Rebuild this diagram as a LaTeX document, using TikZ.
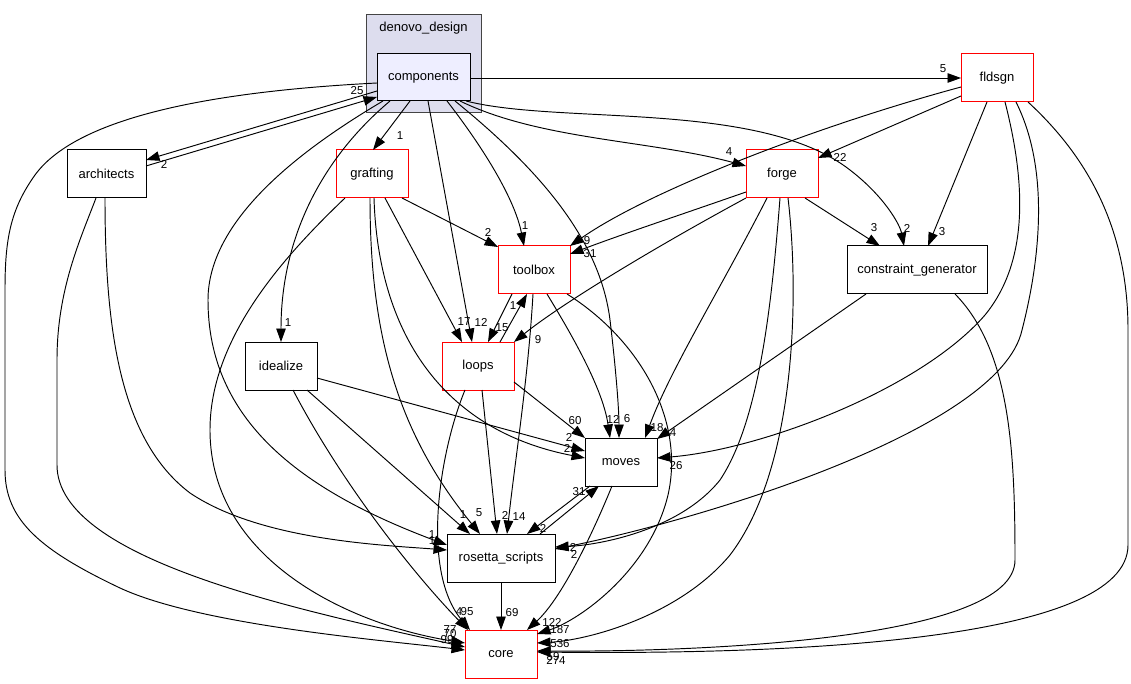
\documentclass[tikz,border=0pt]{standalone}
\usepackage{fontspec}
\setmainfont{Liberation Sans}
\usetikzlibrary{arrows.meta,calc}
\definecolor{clfill}{RGB}{221,221,238}
\definecolor{compfill}{RGB}{238,238,255}
\definecolor{clborder}{RGB}{68,68,68}
\definecolor{redb}{RGB}{255,0,0}
\begin{document}
\begin{tikzpicture}[x=1pt,y=-1pt,
  box/.style={draw=black, line width=1pt, minimum height=48pt, inner sep=0pt, fill=white, font=\fontsize{13}{15}\selectfont},
  rbox/.style={box, draw=redb},
  dep/.style={draw=black, line width=0.95pt, -{Triangle[length=13.5pt,width=9.5pt]}},
  lab/.style={inner sep=0pt, font=\fontsize{11.5}{13}\selectfont}]
\useasboundingbox (0,0) rectangle (1131,684);
\fill[white] (0,0) rectangle (1131,684);
% cluster
\draw[fill=clfill, draw=clborder, line width=1pt] (366,15) rectangle (481,113);
\node[inner sep=0pt, font=\fontsize{13}{15}\selectfont] (cltitle) at (423.5,28) {denovo\_design};
% nodes
\node[box, fill=compfill, minimum width=93pt, minimum height=47pt] (comp) at (423.5,77.5) {components};
\node[rbox, minimum width=72pt] (fld) at (997,78) {fldsgn};
\node[box, minimum width=79pt] (arch) at (106.5,174) {architects};
\node[rbox, minimum width=72pt] (graft) at (372,174) {grafting};
\node[rbox, minimum width=72pt] (forge) at (782,174) {forge};
\node[rbox, minimum width=72pt] (tool) at (534,270) {toolbox};
\node[box, minimum width=140pt] (cg) at (917,270) {constraint\_generator};
\node[box, minimum width=72pt] (ideal) at (281,366) {idealize};
\node[rbox, minimum width=72pt] (loops) at (478,366) {loops};
\node[box, minimum width=72pt] (moves) at (621,462) {moves};
\node[box, minimum width=108pt] (ros) at (501,558) {rosetta\_scripts};
\node[rbox, minimum width=72pt] (core) at (501,654) {core};
% edges
\draw[dep] ($(comp)+(46.5,0.5)$) -- ($(fld)+(-36,0)$);
\draw[dep] ($(comp)+(-46.5,13.5)$) -- ($(arch)+(39.5,-14)$);
\draw[dep] ($(arch)+(39.5,-8)$) -- ($(comp)+(-46.5,19.5)$);
\draw[dep] ($(comp)+(-46.5,5.5)$) .. controls (200,92) and (75,120) .. (35,175) .. controls (10,210) and (5,240) .. (5,290) -- (5,470) .. controls (5,520) and (40,550) .. (120,588) .. controls (200,625) and (380,640) .. ($(core)+(-36,-4)$);
\draw[dep] ($(arch)+(-10.5,24)$) .. controls (80,240) and (57,290) .. (57,360) -- (57,465) .. controls (57,560) and (300,610) .. ($(core)+(-36,-7)$);
\draw[dep] ($(arch)+(-1.5,24)$) .. controls (105,330) and (120,440) .. (190,493) .. controls (260,540) and (380,545) .. ($(ros)+(-54,-8)$);
\draw[dep] ($(comp)+(-40.5,23.5)$) .. controls (300,150) and (208,220) .. (208,300) .. controls (208,420) and (300,490) .. ($(ros)+(-54,-13)$);
\draw[dep] ($(comp)+(-33.5,23.5)$) .. controls (320,160) and (281,240) .. ($(ideal)+(0,-24)$);
\draw[dep] ($(comp)+(-13.5,23.5)$) -- ($(graft)+(1,-24)$);
\draw[dep] ($(comp)+(4.5,23.5)$) -- ($(loops)+(-6,-24)$);
\draw[dep] ($(comp)+(23.5,23.5)$) .. controls (485,150) and (515,200) .. ($(tool)+(-10,-24)$);
\draw[dep] ($(comp)+(31.5,23.5)$) .. controls (540,170) and (600,240) .. (610,320) .. controls (616,370) and (619,410) .. ($(moves)+(-2,-24)$);
\draw[dep] ($(comp)+(36.5,23.5)$) .. controls (540,140) and (650,140) .. ($(forge)+(-36,-8)$);
\draw[dep] ($(comp)+(42.5,23.5)$) .. controls (560,125) and (760,100) .. (850,170) .. controls (885,197) and (900,225) .. ($(cg)+(-13,-24)$);
\draw[dep] ($(fld)+(-36,9)$) .. controls (820,125) and (650,190) .. ($(tool)+(36,-24)$);
\draw[dep] ($(fld)+(-36,18)$) -- ($(forge)+(36,-16)$);
\draw[dep] ($(fld)+(-10,24)$) -- ($(cg)+(11,-24)$);
\draw[dep] ($(fld)+(8,24)$) .. controls (1025,180) and (1030,260) .. (985,315) .. controls (920,390) and (760,450) .. ($(moves)+(36,-4)$);
\draw[dep] ($(fld)+(19,24)$) .. controls (1050,170) and (1040,260) .. (1022,330) .. controls (1000,430) and (700,520) .. ($(ros)+(54,-9)$);
\draw[dep] ($(fld)+(31,24)$) .. controls (1080,150) and (1128,220) .. (1128,330) -- (1128,545) .. controls (1128,640) and (800,655) .. ($(core)+(36,-2)$);
\draw[dep] ($(forge)+(-36,18)$) .. controls (680,215) and (620,235) .. ($(tool)+(36,-16)$);
\draw[dep] ($(forge)+(-36,24)$) .. controls (650,250) and (560,305) .. ($(loops)+(36,-24)$);
\draw[dep] ($(forge)+(23,24)$) -- ($(cg)+(-37,-24)$);
\draw[dep] ($(forge)+(-15,24)$) .. controls (720,290) and (670,370) .. ($(moves)+(24,-24)$);
\draw[dep] ($(forge)+(-2,24)$) .. controls (772,300) and (760,420) .. (720,480) .. controls (680,530) and (600,545) .. ($(ros)+(54,-11)$);
\draw[dep] ($(forge)+(6,24)$) .. controls (800,300) and (795,470) .. (730,555) .. controls (680,615) and (590,640) .. ($(core)+(36,-11)$);
\draw[dep] ($(graft)+(30,24)$) -- ($(tool)+(-36,-23)$);
\draw[dep] ($(graft)+(13,24)$) -- ($(loops)+(-16,-24)$);
\draw[dep] ($(graft)+(2,24)$) .. controls (378,330) and (440,430) .. ($(moves)+(-36,-4)$);
\draw[dep] ($(graft)+(-2,24)$) .. controls (370,330) and (395,430) .. ($(ros)+(-21,-24)$);
\draw[dep] ($(graft)+(-27,24)$) .. controls (280,260) and (210,340) .. (210,430) .. controls (210,560) and (350,625) .. ($(core)+(-36,-11)$);
\draw[dep] ($(tool)+(-22,24)$) -- ($(loops)+(10,-24)$);
\draw[dep] ($(loops)+(22,-24)$) -- ($(tool)+(-7,24)$);
\draw[dep] ($(tool)+(13,24)$) .. controls (575,340) and (603,390) .. ($(moves)+(-11,-24)$);
\draw[dep] ($(tool)+(-1,24)$) .. controls (528,380) and (515,460) .. ($(ros)+(6,-24)$);
\draw[dep] ($(tool)+(33,24)$) .. controls (640,340) and (685,420) .. (668,495) .. controls (650,570) and (580,620) .. ($(core)+(36,-20)$);
\draw[dep] ($(loops)+(36,16)$) -- ($(moves)+(-36,-24)$);
\draw[dep] ($(loops)+(4,24)$) -- ($(ros)+(-4,-24)$);
\draw[dep] ($(loops)+(-13,24)$) .. controls (440,450) and (420,570) .. ($(core)+(-31,-24)$);
\draw[dep] ($(ideal)+(12,24)$) .. controls (340,480) and (410,570) .. ($(core)+(-33,-24)$);
\draw[dep] ($(ideal)+(26,24)$) -- ($(ros)+(-31,-24)$);
\draw[dep] ($(ideal)+(36,12)$) -- ($(moves)+(-36,-11)$);
\draw[dep] ($(cg)+(-51,24)$) -- ($(moves)+(36,-23)$);
\draw[dep] ($(cg)+(38,24)$) .. controls (1010,350) and (1015,450) .. (1015,560) .. controls (1015,640) and (700,652) .. ($(core)+(36,-3)$);
\draw[dep] ($(moves)+(-31,24)$) -- ($(ros)+(26,-24)$);
\draw[dep] ($(ros)+(39,-24)$) -- ($(moves)+(-22,24)$);
\draw[dep] ($(moves)+(-9,24)$) .. controls (590,540) and (560,600) .. ($(core)+(26,-24)$);
\draw[dep] ($(ros)+(0,24)$) -- ($(core)+(0,-24)$);
% labels
\node[lab] (l1) at (943,69) {5};
\node[lab] (l2) at (164,164) {2};
\node[lab] (l3) at (357,91) {25};
\node[lab] (l4) at (447,640) {99};
\node[lab] (l5) at (450,634) {70};
\node[lab] (l6) at (450,630) {77};
\node[lab] (l7) at (432,541) {1};
\node[lab] (l8) at (432,535) {1};
\node[lab] (l9) at (288,323) {1};
\node[lab] (l10) at (400,136) {1};
\node[lab] (l11) at (481,322) {12};
\node[lab] (l12) at (525,226) {1};
\node[lab] (l13) at (627,419) {6};
\node[lab] (l14) at (729,152) {4};
\node[lab] (l15) at (907,228) {2};
\node[lab] (l16) at (587,241) {9};
\node[lab] (l17) at (840,157) {22};
\node[lab] (l18) at (942,232) {3};
\node[lab] (l19) at (676,466) {26};
\node[lab] (l20) at (574,554) {2};
\node[lab] (l21) at (556,660) {274};
\node[lab] (l22) at (590,254) {31};
\node[lab] (l23) at (538,340) {9};
\node[lab] (l24) at (874,228) {3};
\node[lab] (l25) at (657,428) {18};
\node[lab] (l26) at (573,547) {2};
\node[lab] (l27) at (560,644) {536};
\node[lab] (l28) at (488,232) {2};
\node[lab] (l29) at (464,322) {17};
\node[lab] (l30) at (567,448) {2};
\node[lab] (l31) at (479,513) {5};
\node[lab] (l32) at (502,328) {15};
\node[lab] (l33) at (513,306) {1};
\node[lab] (l34) at (613,419) {12};
\node[lab] (l35) at (519,517) {14};
\node[lab] (l36) at (560,630) {187};
\node[lab] (l37) at (575,421) {60};
\node[lab] (l38) at (505,515) {2};
\node[lab] (l39) at (467,612) {95};
\node[lab] (l40) at (459,612) {4};
\node[lab] (l41) at (463,515) {1};
\node[lab] (l42) at (569,437) {2};
\node[lab] (l43) at (673,433) {4};
\node[lab] (l44) at (553,657) {59};
\node[lab] (l45) at (543,528) {2};
\node[lab] (l46) at (579,492) {31};
\node[lab] (l47) at (552,622) {122};
\node[lab] (l48) at (512,613) {69};
\end{tikzpicture}
\end{document}
